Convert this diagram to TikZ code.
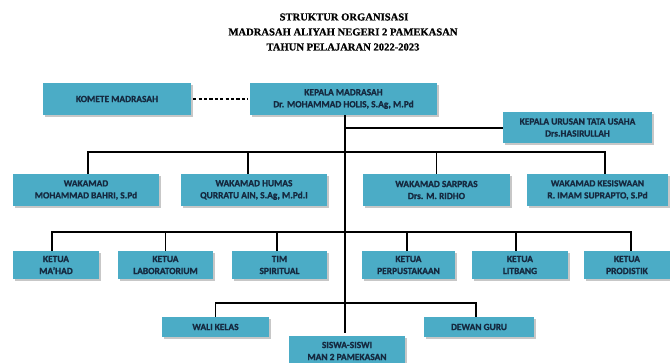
\documentclass[tikz,border=0pt]{standalone}
\usepackage{fontspec}
\newfontfamily\boxfontfam{Carlito}[BoldFeatures={FakeBold=1.0}]
\newfontfamily\titlefontfam{Liberation Serif}[BoldFeatures={FakeBold=0.6}]
\usetikzlibrary{shadows}
\definecolor{boxfill}{HTML}{4BACC6}
\definecolor{boxtext}{HTML}{15293F}
\tikzset{
  orgbox/.style={fill=boxfill, inner sep=0pt, align=center, text=boxtext,
    font=\boxfontfam\bfseries\fontsize{9.4}{12}\selectfont,
    drop shadow={shadow xshift=1.5pt, shadow yshift=-1.8pt, fill=black, opacity=0.22}},
  titletext/.style={font=\titlefontfam\bfseries\fontsize{10.6}{12}\selectfont, inner sep=0pt},
  conn/.style={line width=1.8pt, black},
  dashconn/.style={line width=1.6pt, black, dash pattern=on 3.2pt off 2.2pt},
}
\begin{document}
\begin{tikzpicture}[x=1pt,y=-1pt]
\useasboundingbox (0,0) rectangle (670,363);
\clip (0,0) rectangle (670,363);
\fill[white] (0,0) rectangle (670,363);
% titles
\node[titletext] (t1) at (344,17) {STRUKTUR ORGANISASI};
\node[titletext] (t2) at (343,32) {MADRASAH ALIYAH NEGERI 2 PAMEKASAN};
\node[titletext] (t3) at (343,47) {TAHUN PELAJARAN 2022-2023};
% boxes
\node[orgbox, minimum width=148pt, minimum height=32pt] (komete) at (117,99) {KOMETE MADRASAH};
\node[orgbox, minimum width=187pt, minimum height=32pt] (kepala) at (343.5,99) {KEPALA MADRASAH\\Dr. MOHAMMAD HOLIS, S.Ag, M.Pd};
\node[orgbox, minimum width=149pt, minimum height=31pt] (kutu) at (577.5,127.5) {KEPALA URUSAN TATA USAHA\\Drs.HASIRULLAH};
\node[orgbox, minimum width=146pt, minimum height=32pt] (wk1) at (86,190) {WAKAMAD\\MOHAMMAD BAHRI, S.Pd};
\node[orgbox, minimum width=146pt, minimum height=32pt] (wk2) at (254,190) {WAKAMAD HUMAS\\QURRATU AIN, S.Ag, M.Pd.I};
\node[orgbox, minimum width=147pt, minimum height=32pt] (wk3) at (436.5,190) {WAKAMAD SARPRAS\\Drs. M. RIDHO};
\node[orgbox, minimum width=141pt, minimum height=32pt] (wk4) at (597.5,190) {WAKAMAD KESISWAAN\\R. IMAM SUPRAPTO, S.Pd};
\node[orgbox, minimum width=86pt, minimum height=28pt] (k1) at (56,265) {KETUA\\MA’HAD};
\node[orgbox, minimum width=95pt, minimum height=28pt] (k2) at (165.5,265) {KETUA\\LABORATORIUM};
\node[orgbox, minimum width=95pt, minimum height=28pt] (k3) at (279.5,265) {TIM\\SPIRITUAL};
\node[orgbox, minimum width=93pt, minimum height=28pt] (k4) at (408.5,265) {KETUA\\PERPUSTAKAAN};
\node[orgbox, minimum width=96pt, minimum height=28pt] (k5) at (520,265) {KETUA\\LITBANG};
\node[orgbox, minimum width=86pt, minimum height=28pt] (k6) at (627,265) {KETUA\\PRODISTIK};
\node[orgbox, minimum width=107pt, minimum height=20pt] (wali) at (215.5,327) {WALI KELAS};
\node[orgbox, minimum width=110pt, minimum height=20pt] (dewan) at (479,327) {DEWAN GURU};
\node[orgbox, minimum width=116pt, minimum height=30pt] (siswa) at (347,351) {SISWA-SISWI\\MAN 2 PAMEKASAN};
% connectors
\draw[dashconn, shorten <=2pt, shorten >=2pt] (komete.east) -- (kepala.west);
\draw[conn] ([xshift=1.5pt]kepala.south) -- ([xshift=-2pt,yshift=3pt]siswa.north);
\coordinate (kt) at (345,128);
\coordinate (wbar) at (345,152);
\coordinate (kbar) at (345,232);
\coordinate (lbar) at (345,303);
\draw[conn] (kt) -- (kutu.west |- kt);
\draw[conn] ([xshift=2pt]wk1.north) -- ([xshift=2pt]wk1.north |- wbar) -- ([xshift=7.5pt]wk4.north |- wbar) -- ([xshift=7.5pt]wk4.north);
\draw[conn] ([xshift=-6pt]wk2.north) -- ([xshift=-6pt]wk2.north |- wbar);
\draw[conn] (wk3.north) -- (wk3.north |- wbar);
\draw[conn] ([xshift=-4pt]k1.north) -- ([xshift=-4pt]k1.north |- kbar) -- ([xshift=4pt]k6.north |- kbar) -- ([xshift=4pt]k6.north);
\draw[conn] (k2.north) -- (k2.north |- kbar);
\draw[conn] ([xshift=-2.5pt]k3.north) -- ([xshift=-2.5pt]k3.north |- kbar);
\draw[conn] ([xshift=-1.5pt]k4.north) -- ([xshift=-1.5pt]k4.north |- kbar);
\draw[conn] ([xshift=-4pt]k5.north) -- ([xshift=-4pt]k5.north |- kbar);
\draw[conn] (wali.north) -- (wali.north |- lbar) -- ([xshift=-3pt]dewan.north |- lbar) -- ([xshift=-3pt]dewan.north);
\end{tikzpicture}
\end{document}
